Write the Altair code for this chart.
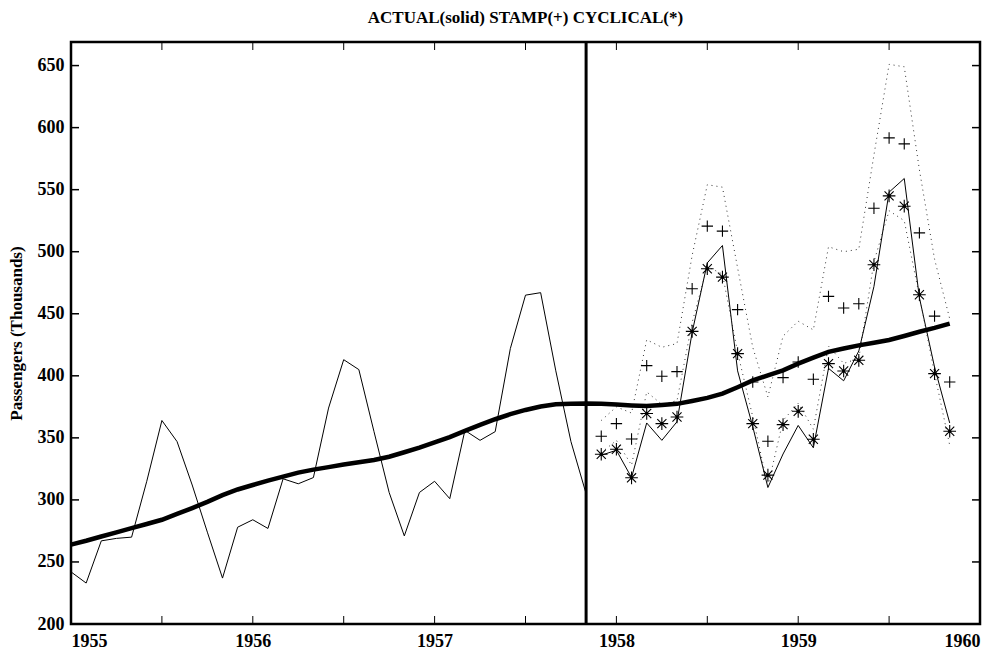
import altair as alt
import pandas as pd

# ---------------- data ----------------
actual = [242, 233, 267, 269, 270, 315, 364, 347, 312, 274, 237, 278,
          284, 277, 317, 313, 318, 374, 413, 405, 355, 306, 271, 306,
          315, 301, 356, 348, 355, 422, 465, 467, 404, 347, 305, 336,
          340, 318, 362, 348, 363, 435, 491, 505, 404, 359, 310, 337,
          360, 342, 406, 396, 420, 472, 548, 559, 463, 407, 362]

trend = [264, 267.1, 270.5, 273.9, 277.2, 280.6, 284, 288.7, 293.4, 298.4,
         303.8, 308.4, 312.0, 315.6, 318.8, 322, 324.4, 326.4, 328.5, 330.4,
         332.2, 334.8, 338.4, 342.1, 346.3, 350.6, 355.6, 360.5, 365, 369.1,
         372.5, 375.3, 377.1, 377.4, 377.6, 377.5, 376.8, 376.1, 375.6, 376.4,
         377.4, 379.7, 382.2, 385.6, 390.8, 396.3, 400.4, 404.4, 409.8, 414.6,
         419.3, 422, 424.5, 426.7, 428.9, 432.1, 435.5, 438.6, 442]

stamp = [351.3, 361.5, 349.1, 408.2, 399.6, 403.4, 470.2, 520.6, 516.6, 453.3,
         395, 347.3, 398.5, 411.1, 397.2, 464, 454.6, 458.1, 535, 591.7,
         586.9, 515.2, 448.1, 395]

cyclical = [336.8, 340.8, 317.8, 369.6, 361.5, 366.8, 435.8, 486.3, 479.5, 417.9,
            361.5, 320, 360.7, 371.4, 348.9, 409.8, 403.9, 412.5, 489.5, 545,
            536.7, 465.3, 401.8, 355.3]

upper = [364, 375, 370, 429, 423, 426, 497, 554, 552, 487,
         423, 383, 432, 444, 437, 504, 500, 502, 578, 651,
         649, 566, 494, 446]

lower = [338, 348, 328, 387, 377, 380, 443, 488, 482, 419,
         367, 311, 364, 378, 357, 424, 410, 414, 492, 533,
         525, 464, 402, 344]

start_year = 1955
split_index = 35          # forecast origin: Dec 1957
cut_year = 1957 + 10 / 12  # vertical line (Nov 1957)

x_tick_vals = [1955.5, 1956, 1956.5, 1957, 1957.5, 1958, 1958.5, 1959, 1959.5]
x_label_vals = [1955, 1956, 1957, 1958, 1959, 1960]
y_tick_vals = [200, 250, 300, 350, 400, 450, 500, 550, 600, 650]

# ---------------- tables ----------------
t_all = [start_year + i / 12 for i in range(len(actual))]
df_actual = pd.DataFrame({
    "t": t_all,
    "v": actual,
    "seg": ["a" if i < split_index else "b" for i in range(len(actual))],
})
df_trend = pd.DataFrame({"t": t_all, "v": trend})
t_fc = t_all[split_index:]
df_fc = pd.DataFrame({"t": t_fc, "stamp": stamp, "cyc": cyclical,
                      "up": upper, "lo": lower})
df_xt = pd.DataFrame({"t": x_tick_vals})
df_yt = pd.DataFrame({"v": y_tick_vals})

W, H = 909, 582
FONT = "Liberation Serif"

xs = alt.Scale(domain=[1955, 1960], nice=False, zero=False)
ys = alt.Scale(domain=[200, 669], nice=False, zero=False)

X = alt.X("t:Q", scale=xs,
          axis=alt.Axis(values=x_label_vals, format="d", title=None, grid=False,
                        ticks=False, domain=False, labelPadding=8,
                        labelFont=FONT, labelFontSize=18, labelFontWeight="bold",
                        labelColor="black"))
Y = alt.Y("v:Q", scale=ys,
          axis=alt.Axis(values=y_tick_vals, title="Passengers (Thousands)",
                        grid=False, ticks=False, domain=False, labelPadding=7,
                        labelFont=FONT, labelFontSize=18, labelFontWeight="bold",
                        labelColor="black", titleFont=FONT, titleFontSize=17,
                        titleFontWeight="bold", titleColor="black",
                        titlePadding=12))

base_actual = alt.Chart(df_actual).mark_line(color="black", strokeWidth=1).encode(
    x=X, y=Y, detail="seg:N")

trend_line = alt.Chart(df_trend).mark_line(color="black", strokeWidth=4.5).encode(
    x=alt.X("t:Q", scale=xs), y=alt.Y("v:Q", scale=ys))

fc = alt.Chart(df_fc)
xf = alt.X("t:Q", scale=xs)
up_line = fc.mark_line(color="#333", strokeWidth=1, strokeDash=[1, 4]).encode(
    x=xf, y=alt.Y("up:Q", scale=ys))
lo_line = fc.mark_line(color="#333", strokeWidth=1, strokeDash=[1, 4]).encode(
    x=xf, y=alt.Y("lo:Q", scale=ys))

plus_path = "M-1,0L1,0M0,-1L0,1"
star_path = "M-1,0L1,0M0,-1L0,1M-0.72,-0.72L0.72,0.72M-0.72,0.72L0.72,-0.72"
plus_pts = fc.mark_point(shape=plus_path, filled=False, color="black",
                         strokeWidth=1.1, size=130, opacity=1).encode(
    x=xf, y=alt.Y("stamp:Q", scale=ys))
star_pts = fc.mark_point(shape=star_path, filled=False, color="black",
                         strokeWidth=1.1, size=160, opacity=1).encode(
    x=xf, y=alt.Y("cyc:Q", scale=ys))
star_dot = fc.mark_circle(color="black", size=10, opacity=1).encode(
    x=xf, y=alt.Y("cyc:Q", scale=ys))

vline = alt.Chart(pd.DataFrame({"t": [cut_year]})).mark_rule(
    color="black", strokeWidth=3).encode(x=alt.X("t:Q", scale=xs))

# inward ticks
xt = alt.Chart(df_xt)
xt_bottom = xt.mark_tick(orient="vertical", size=8, thickness=1, color="black",
                         opacity=1).encode(x=alt.X("t:Q", scale=xs), y=alt.value(H - 4))
xt_top = xt.mark_tick(orient="vertical", size=8, thickness=1, color="black",
                      opacity=1).encode(x=alt.X("t:Q", scale=xs), y=alt.value(4))
yt = alt.Chart(df_yt)
yt_left = yt.mark_tick(orient="horizontal", size=8, thickness=1.5, color="black",
                       opacity=1).encode(y=alt.Y("v:Q", scale=ys), x=alt.value(4))
yt_right = yt.mark_tick(orient="horizontal", size=8, thickness=1.5, color="black",
                        opacity=1).encode(y=alt.Y("v:Q", scale=ys), x=alt.value(W - 4))

chart = alt.layer(
    base_actual, up_line, lo_line, trend_line, plus_pts, star_pts, star_dot,
    vline, xt_bottom, xt_top, yt_left, yt_right
).properties(
    width=W, height=H,
    title=alt.TitleParams("ACTUAL(solid) STAMP(+) CYCLICAL(*)", font=FONT,
                          fontSize=17, fontWeight="bold", color="black",
                          anchor="middle", offset=14),
    autosize=alt.AutoSizeParams(type="none"),
    padding={"left": 63, "top": 34, "right": 16, "bottom": 25},
    background="white",
).configure_view(stroke="black", strokeWidth=2.5)

chart.save("out.html", embed_options={"renderer": "svg", "actions": False})
